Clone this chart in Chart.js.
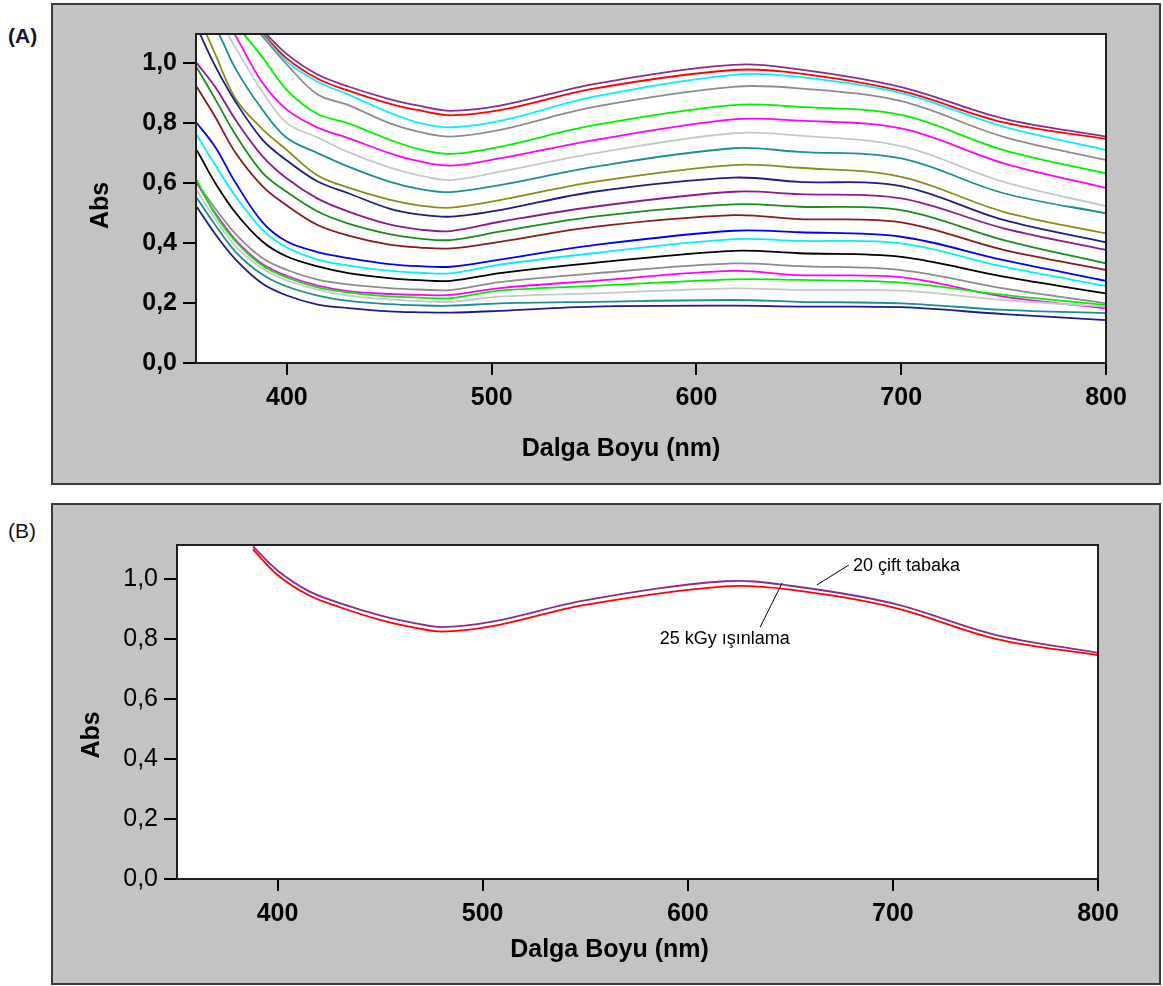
<!DOCTYPE html>
<html>
<head>
<meta charset="utf-8">
<title>Abs - Dalga Boyu</title>
<script src="https://cdn.jsdelivr.net/npm/chart.js@4.4.0/dist/chart.umd.min.js"></script>
<style>
  body { margin: 0; background: #fff; width: 1163px; height: 986px; position: relative; font-family: "Liberation Sans", Arial, sans-serif; }
  .panel { position: absolute; left: 51px; width: 1110px; height: 482px; box-sizing: border-box; border: 2px solid #3a3a3a; background: #c3c3c3; }
  #panelA { top: 3px; }
  #panelB { top: 503px; }
  .panel canvas { display: block; }
  .tag { position: absolute; left: 8px; font-size: 21px; line-height: 21px; color: #141428; }
  #tagA { top: 25px; font-weight: bold; }
  #tagB { top: 520px; }
</style>
</head>
<body>
<div class="tag" id="tagA">(A)</div>
<div class="panel" id="panelA"><canvas id="chartA" width="1106" height="478"></canvas></div>
<div class="tag" id="tagB">(B)</div>
<div class="panel" id="panelB"><canvas id="chartB" width="1106" height="478"></canvas></div>

<script>
// wavelength grid (nm) shared by every spectrum
const wavelengths = [356, 365, 375, 388, 400, 415, 430, 450, 465, 480, 504, 550, 618, 650, 700, 750, 800];
const xTicks = [400, 500, 600, 700, 800];
const yTicks = [0, 0.2, 0.4, 0.6, 0.8, 1.0];

// absorbance spectra, film with N bilayers
const bilayer20 = [null, null, null, 1.11, 1.03, 0.962, 0.922, 0.88, 0.857, 0.841, 0.858, 0.93, 0.994, 0.979, 0.92, 0.815, 0.755];
const irradiated25kGy = [null, null, null, 1.10, 1.015, 0.948, 0.908, 0.865, 0.842, 0.826, 0.843, 0.915, 0.977, 0.966, 0.907, 0.802, 0.747];
const bilayer19 = [null, null, null, 1.095, 1.005, 0.938, 0.895, 0.835, 0.8, 0.786, 0.807, 0.888, 0.961, 0.954, 0.9, 0.788, 0.71];
const bilayer18 = [null, null, 1.2, 1.09, 0.995, 0.895, 0.86, 0.8, 0.77, 0.755, 0.777, 0.854, 0.921, 0.916, 0.873, 0.754, 0.677];
const bilayer17 = [null, null, 1.13, 1.02, 0.91, 0.83, 0.799, 0.745, 0.712, 0.697, 0.721, 0.793, 0.86, 0.854, 0.827, 0.71, 0.632];
const bilayer16 = [null, 1.2, 1.09, 0.935, 0.845, 0.785, 0.75, 0.7, 0.672, 0.658, 0.682, 0.743, 0.812, 0.808, 0.782, 0.666, 0.584];
const bilayer15 = [null, 1.17, 1.05, 0.905, 0.8, 0.752, 0.703, 0.652, 0.625, 0.61, 0.638, 0.699, 0.766, 0.758, 0.723, 0.604, 0.523];
const bilayer14 = [1.2, 1.12, 0.98, 0.845, 0.75, 0.7, 0.655, 0.605, 0.58, 0.57, 0.593, 0.654, 0.716, 0.704, 0.682, 0.566, 0.499];
const bilayer13 = [1.17, 1.03, 0.88, 0.78, 0.71, 0.625, 0.585, 0.545, 0.525, 0.518, 0.543, 0.604, 0.66, 0.651, 0.621, 0.504, 0.432];
const bilayer12 = [1.12, 0.99, 0.87, 0.745, 0.675, 0.605, 0.566, 0.515, 0.495, 0.488, 0.51, 0.571, 0.618, 0.604, 0.59, 0.477, 0.402];
const bilayer11 = [1.0, 0.92, 0.81, 0.69, 0.615, 0.548, 0.505, 0.462, 0.445, 0.44, 0.471, 0.521, 0.571, 0.563, 0.549, 0.449, 0.377];
const bilayer10 = [0.985, 0.88, 0.76, 0.635, 0.57, 0.505, 0.465, 0.43, 0.415, 0.41, 0.438, 0.488, 0.529, 0.521, 0.51, 0.41, 0.332];
const bilayer9 = [0.92, 0.82, 0.7, 0.59, 0.525, 0.46, 0.425, 0.395, 0.385, 0.382, 0.404, 0.454, 0.493, 0.48, 0.469, 0.377, 0.31];
const bilayer8 = [0.8, 0.72, 0.6, 0.47, 0.405, 0.37, 0.35, 0.33, 0.323, 0.321, 0.345, 0.393, 0.441, 0.436, 0.421, 0.343, 0.274];
const bilayer7 = [0.76, 0.66, 0.555, 0.445, 0.385, 0.345, 0.325, 0.308, 0.301, 0.299, 0.328, 0.366, 0.413, 0.407, 0.399, 0.321, 0.257];
const bilayer6 = [0.71, 0.6, 0.5, 0.405, 0.355, 0.322, 0.3, 0.283, 0.276, 0.274, 0.3, 0.334, 0.374, 0.366, 0.354, 0.288, 0.232];
const bilayer5 = [0.6, 0.515, 0.43, 0.35, 0.31, 0.278, 0.262, 0.25, 0.245, 0.243, 0.27, 0.299, 0.332, 0.323, 0.31, 0.249, 0.199];
const bilayer4 = [0.6, 0.5, 0.41, 0.33, 0.29, 0.258, 0.24, 0.23, 0.227, 0.227, 0.25, 0.274, 0.307, 0.293, 0.286, 0.221, 0.182];
const bilayer3 = [0.61, 0.495, 0.405, 0.325, 0.285, 0.252, 0.235, 0.222, 0.218, 0.216, 0.241, 0.257, 0.279, 0.277, 0.268, 0.227, 0.193];
const bilayer2 = [0.575, 0.48, 0.39, 0.315, 0.275, 0.245, 0.225, 0.212, 0.206, 0.204, 0.221, 0.232, 0.249, 0.243, 0.241, 0.21, 0.188];
const bilayer1 = [0.55, 0.46, 0.37, 0.295, 0.255, 0.225, 0.207, 0.196, 0.192, 0.191, 0.199, 0.204, 0.21, 0.204, 0.199, 0.177, 0.166];
const bilayer0 = [0.52, 0.43, 0.345, 0.265, 0.225, 0.195, 0.183, 0.172, 0.169, 0.168, 0.174, 0.188, 0.191, 0.188, 0.186, 0.163, 0.143];

const seriesA = [bilayer0, bilayer1, bilayer2, bilayer3, bilayer4, bilayer5, bilayer6, bilayer7, bilayer8, bilayer9, bilayer10,
  bilayer11, bilayer12, bilayer13, bilayer14, bilayer15, bilayer16, bilayer17, bilayer18, bilayer19, irradiated25kGy, bilayer20];
const colorsA = ['#1c1c8c', '#1a9090', '#c8c8c8', '#00f000', '#ff00ff', '#8c8c8c', '#000000', '#00f0ff', '#0000ff', '#8c1a1a', '#1a8c1a',
  '#8c1a8c', '#1c1c8c', '#8c8c1a', '#1a9090', '#c8c8c8', '#ff00ff', '#00f000', '#8c8c8c', '#00f0ff', '#ff0000', '#8b2c8b'];

const seriesB = [irradiated25kGy, bilayer20];
const colorsB = ['#ff0000', '#8b2c8b'];

const callouts = [
  { text: '20 çift tabaka', tip: [663, 0.982], bend: [678.5, 1.048], at: [680.5, 1.029], align: 'left' },
  { text: '25 kGy ışınlama', tip: [646, 0.988], bend: [635.3, 0.841], at: [618, 0.784], align: 'center' }
];

const FONT = '"Liberation Sans", Arial, sans-serif';

function toPoints(values) {
  return wavelengths.map((x, i) => ({ x: x, y: values[i] }));
}

// white plot area and the dark frame around it
const plotFrame = {
  id: 'plotFrame',
  beforeDraw(chart) {
    const { ctx, chartArea: a } = chart;
    ctx.save();
    ctx.fillStyle = '#fff';
    ctx.fillRect(a.left, a.top, a.width, a.height);
    ctx.restore();
  },
  afterDatasetsDraw(chart) {
    const { ctx, chartArea: a } = chart;
    ctx.save();
    ctx.strokeStyle = '#1e1e1e';
    ctx.lineWidth = 2;
    ctx.strokeRect(a.left, a.top, a.width, a.height);
    ctx.restore();
  }
};

// axis titles, drawn by hand so they can sit off-centre
const axisTitles = {
  id: 'axisTitles',
  afterDraw(chart, args, opts) {
    const { ctx, chartArea: a } = chart;
    ctx.save();
    ctx.fillStyle = '#000';
    ctx.font = 'bold 25px ' + FONT;
    ctx.textAlign = 'center';
    ctx.textBaseline = 'middle';
    ctx.fillText('Dalga Boyu (nm)', (a.left + a.right) / 2 + opts.xShift, a.bottom + opts.xDrop);
    ctx.translate(opts.yX, (a.top + a.bottom) / 2 + opts.yShift);
    ctx.rotate(-Math.PI / 2);
    ctx.fillText('Abs', 0, 0);
    ctx.restore();
  }
};

// labels with leader lines pointing at the two curves
const curveLabels = {
  id: 'curveLabels',
  afterDraw(chart, args, opts) {
    if (!opts.items) return;
    const { ctx, scales: { x, y } } = chart;
    ctx.save();
    ctx.strokeStyle = '#000';
    ctx.lineWidth = 1;
    ctx.fillStyle = '#000';
    ctx.font = '18px ' + FONT;
    ctx.textBaseline = 'alphabetic';
    for (const c of opts.items) {
      ctx.beginPath();
      ctx.moveTo(x.getPixelForValue(c.tip[0]), y.getPixelForValue(c.tip[1]));
      ctx.lineTo(x.getPixelForValue(c.bend[0]), y.getPixelForValue(c.bend[1]));
      ctx.stroke();
      ctx.textAlign = c.align;
      ctx.fillText(c.text, x.getPixelForValue(c.at[0]), y.getPixelForValue(c.at[1]));
    }
    ctx.restore();
  }
};

function makeChart(id, series, colors, cfg) {
  return new Chart(document.getElementById(id), {
    type: 'line',
    data: {
      datasets: series.map((s, i) => ({
        data: toPoints(s),
        borderColor: colors[i],
        backgroundColor: colors[i],
        borderWidth: 1.8,
        pointRadius: 0,
        fill: false,
        tension: 0.35
      }))
    },
    options: {
      responsive: false,
      animation: false,
      layout: { padding: cfg.padding },
      plugins: {
        legend: { display: false },
        tooltip: { enabled: false },
        axisTitles: cfg.titles,
        curveLabels: { items: cfg.callouts }
      },
      scales: {
        x: {
          type: 'linear',
          min: cfg.xMin,
          max: 800,
          afterBuildTicks: s => { s.ticks = xTicks.map(v => ({ value: v })); },
          afterFit: s => { s.height = cfg.xAxisHeight; },
          grid: { drawOnChartArea: false, tickLength: 12, color: '#000', lineWidth: 2 },
          border: { display: false },
          ticks: { color: '#000', padding: 8, maxRotation: 0, autoSkip: false,
                   font: { family: FONT, size: 25, weight: 'bold' } }
        },
        y: {
          min: 0,
          max: cfg.yMax,
          afterBuildTicks: s => { s.ticks = yTicks.map(v => ({ value: v })); },
          afterFit: s => { s.width = cfg.yAxisWidth; },
          grid: { drawOnChartArea: false, tickLength: 13, color: '#000', lineWidth: 2 },
          border: { display: false },
          ticks: { color: '#000', padding: 6,
                   font: { family: FONT, size: 25, weight: cfg.yWeight },
                   callback: v => v.toFixed(1).replace('.', ',') }
        }
      }
    },
    plugins: [plotFrame, axisTitles, curveLabels]
  });
}

makeChart('chartA', seriesA, colorsA, {
  padding: { left: 0, top: 29, right: 53, bottom: 0 },
  xMin: 355.6, yMax: 1.097,
  xAxisHeight: 120, yAxisWidth: 143, yWeight: 'bold',
  titles: { xShift: -30, xDrop: 86, yX: 48, yShift: 7 },
  callouts: null
});

makeChart('chartB', seriesB, colorsB, {
  padding: { left: 0, top: 40, right: 61, bottom: 0 },
  xMin: 351, yMax: 1.115,
  xAxisHeight: 104, yAxisWidth: 124, yWeight: 'normal',
  titles: { xShift: -28, xDrop: 71, yX: 39, yShift: 23 },
  callouts: callouts
});
</script>
</body>
</html>
